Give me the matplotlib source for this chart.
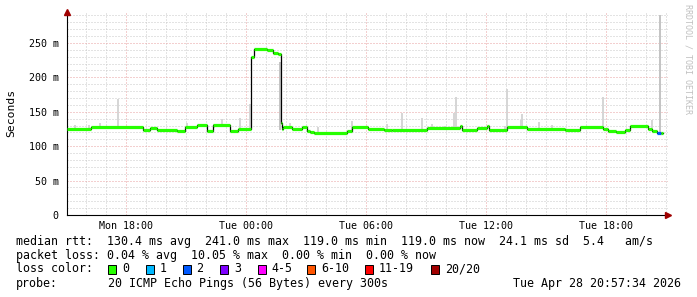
import numpy as np
import matplotlib
matplotlib.use("Agg")
import matplotlib.pyplot as plt
from matplotlib.ticker import MultipleLocator, FixedLocator

# time in hours since Mon 00:00, rtt in ms
seg_start = [15.05, 16.25, 18.85, 19.2, 19.55, 20.55, 20.95, 21.55, 22.05, 22.35,
             23.2, 23.6, 24.25, 24.4, 25.05, 25.35, 25.6, 25.75, 25.8, 25.85,
             26.3, 26.8, 27.05, 27.2, 27.4, 29.05, 29.3, 30.1, 30.9, 31.3,
             33.05, 34.7, 34.8, 35.55, 36.05, 36.15, 37.05, 38.05, 39.95, 40.7,
             41.85, 42.1, 42.5, 42.95, 43.2, 44.1, 44.3, 44.55, 44.75]
seg_rtt = [125.5, 127.5, 123.5, 126.5, 123.5, 122.5, 128.3, 130.8, 122.5, 130.4,
           122.0, 125.4, 230.0, 241.0, 239.5, 236.0, 234.0, 134.0, 125.0, 127.5,
           125.0, 128.0, 122.5, 121.0, 119.6, 122.5, 128.0, 125.5, 123.0, 124.0,
           126.0, 129.0, 123.5, 126.0, 129.0, 123.5, 128.3, 125.4, 123.5, 128.5,
           125.0, 122.5, 120.0, 124.0, 129.0, 125.4, 122.5, 119.6, 119.6]
seg_loss = [0] * 47 + [2, 0]
data_end = 44.85

# smoke (ping spread): time, low, high
smoke_t = [15.45, 16.15, 16.7, 17.6, 18.7, 21.05, 22.4, 22.8, 23.7, 24.2,
           25.7, 26.2, 27.6, 29.3, 31.05, 31.8, 32.8, 33.3, 33.95, 34.4,
           34.5, 36.95, 37.05, 37.75, 37.8, 38.65, 39.3, 41.85, 44.3, 44.7]
smoke_lo = [124, 124, 125, 125, 125, 126, 126, 128, 124, 123,
            124, 125, 119, 121, 122, 123, 123, 125, 125, 125,
            125, 123, 124, 127, 127, 125, 125, 127, 122, 118]
smoke_hi = [131, 131, 133, 168.6, 130, 134, 132, 139, 140.5, 161,
            223, 134, 128, 136.6, 132, 148.7, 140.5, 132, 130, 148,
            172, 130, 182.7, 138, 147, 135, 131, 172, 138, 290]

loss_colors = {0: '#26ff00', 1: '#00b8ff', 2: '#0059ff', 3: '#7e00ff',
               4: '#ff00ff', 6: '#ff5500', 11: '#ff0000', 20: '#a10000'}
legend_labels = ['0', '1', '2', '3', '4-5', '6-10', '11-19', '20/20']
legend_keys = [0, 1, 2, 3, 4, 6, 11, 20]

hour_ticks = [18, 24, 30, 36, 42]
hour_labels = ['Mon 18:00', 'Tue 00:00', 'Tue 06:00', 'Tue 12:00', 'Tue 18:00']

W, H = 697, 297
mono = 'DejaVu Sans Mono'

fig = plt.figure(figsize=(W / 100, H / 100), dpi=100)
fig.patch.set_facecolor('white')
ax = fig.add_axes([67 / W, (H - 215) / H, 601 / W, 203 / H])
ax.set_xlim(15.05, 45.1)
ax.set_ylim(0, 295)

# grid
ax.xaxis.set_major_locator(FixedLocator(hour_ticks))
ax.xaxis.set_minor_locator(MultipleLocator(1))
ax.yaxis.set_major_locator(MultipleLocator(50))
ax.yaxis.set_minor_locator(MultipleLocator(10))
ax.grid(which='minor', color='#c8c8c8', linestyle=(0, (1, 2)), linewidth=0.72)
ax.grid(which='major', color='#e8a0a0', linestyle=(0, (1, 2)), linewidth=0.72)
ax.set_axisbelow(True)

# smoke
for t, lo, hi in zip(smoke_t, smoke_lo, smoke_hi):
    c = '#c4c4c4' if hi > 200 else '#d6d6d6'
    ax.bar(t, hi - lo, bottom=lo, width=1 / 12, color=c, linewidth=0, zorder=2)

# median: thin black step line, then loss-coloured segments
xs = seg_start + [data_end]
ys = seg_rtt + [seg_rtt[-1]]
ax.step(xs, ys, where='post', color='black', linewidth=0.9, zorder=3)
seg_end = seg_start[1:] + [data_end]
for s, e, v, l in zip(seg_start, seg_end, seg_rtt, seg_loss):
    ax.hlines(v, s, e, color=loss_colors[l], linewidth=2.3, zorder=4)

# axes
for side in ['top', 'right']:
    ax.spines[side].set_visible(False)
ax.spines['left'].set_color('black')
ax.spines['bottom'].set_color('black')
ax.spines['left'].set_linewidth(0.8)
ax.spines['bottom'].set_linewidth(0.8)
ax.plot([0], [1.0], marker='^', color='#a00000', markersize=5, transform=ax.transAxes,
        clip_on=False, zorder=6)
ax.plot([1.0], [0], marker='>', color='#a00000', markersize=5, transform=ax.transAxes,
        clip_on=False, zorder=6)

ax.set_xticklabels(hour_labels, fontfamily=mono, fontsize=7.2)
yt = [0, 50, 100, 150, 200, 250]
ax.set_yticks(yt)
ax.set_yticklabels(['0'] + ['%d m' % v for v in yt[1:]], fontfamily=mono, fontsize=7.2)
ax.tick_params(which='both', length=0)
ax.tick_params(axis='y', pad=6)
ax.tick_params(axis='x', pad=4)

fig.text(11 / W, 1 - 113 / H, 'Seconds', rotation=90, ha='center', va='center',
         fontfamily=mono, fontsize=8.2)
fig.text(688 / W, 1 - 4 / H, 'RRDTOOL / TOBI OETIKER', rotation=270, ha='center', va='top',
         fontfamily=mono, fontsize=6.0, color='#c0c0c0')

# legend block
fs = 8.4
def line(y, s, x=16):
    fig.text(x / W, 1 - y / H, s, ha='left', va='center', fontfamily=mono, fontsize=fs)

line(241, 'median rtt:  130.4 ms avg  241.0 ms max  119.0 ms min  119.0 ms now  24.1 ms sd  5.4   am/s')
line(255, 'packet loss: 0.04 % avg  10.05 % max  0.00 % min  0.00 % now')
line(269, 'loss color:')
box_x = [108, 146, 182.6, 220, 257.5, 307, 365, 431]
for bx, key, lab in zip(box_x, legend_keys, legend_labels):
    fig.patches.append(matplotlib.patches.Rectangle(
        (bx / W, 1 - 273.5 / H), 8 / W, 8.5 / H, transform=fig.transFigure,
        facecolor=loss_colors[key], edgecolor='black', linewidth=0.7))
    line(269, lab, x=bx + 14)
line(283, 'probe:')
line(283, '20 ICMP Echo Pings (56 Bytes) every 300s', x=108)
fig.text(681 / W, 1 - 283 / H, 'Tue Apr 28 20:57:34 2026', ha='right', va='center',
         fontfamily=mono, fontsize=fs)

fig.savefig('out.png', dpi=100)
